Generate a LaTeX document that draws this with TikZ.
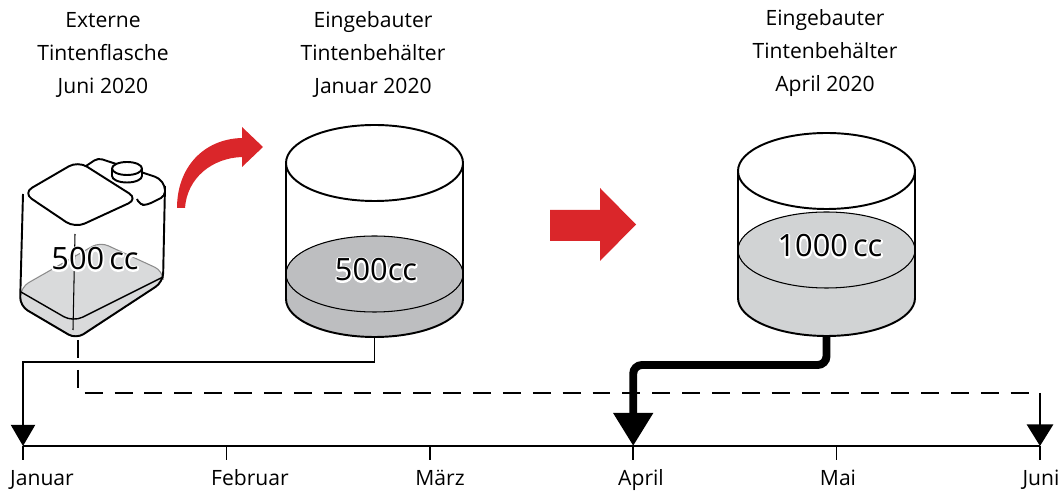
\documentclass[tikz,border=0pt]{standalone}
\usepackage{fontspec}
\setmainfont{Open Sans}
\usepackage{xcolor}
\usetikzlibrary{arrows.meta, positioning, calc}

\definecolor{inkred}{RGB}{218,38,42}
\definecolor{inkA}{RGB}{189,190,192}
\definecolor{inkB}{RGB}{209,211,212}
\definecolor{inkC}{RGB}{217,218,219}

% white outline behind the amounts (stroked copy, then the normal text)
\newcommand{\halotext}[1]{%
  \rlap{\special{pdf:literal direct 1 Tr 1.9 w 1 j 1 1 1 RG}#1\special{pdf:literal direct 0 Tr 0 0 0 RG}}#1}

\begin{document}
\begin{tikzpicture}[x=0.02cm, y=-0.02cm, >=Stealth,
  every node/.style={font=\fontsize{12}{18.8}\selectfont, inner sep=0pt},
  caption/.style={align=center, anchor=base},
  month/.style={anchor=base},
  amount/.style={font=\fontsize{17.5}{20}\selectfont},
  outline/.style={line width=1.1pt, line join=round},
  fineline/.style={line width=0.6pt},
  feedline/.style={line width=1.1pt, -{Triangle[width=13.7pt,length=12pt]}},
  bigfeed/.style={line width=4.5pt, rounded corners=5pt, -{Triangle[width=21.6pt,length=18.8pt]}},
  reserve/.style={line width=1.4pt, dash pattern=on 10.2pt off 6.8pt},
]
\useasboundingbox (0,0) rectangle (1064,492);

% Captions (base = last line)
\node[caption] (capC) at (103,94) {Externe\\Tintenflasche\\Juni 2020};
\node[caption] (capA) at (373,94) {Eingebauter\\Tintenbehälter\\Januar 2020};
\node[caption] (capB) at (825,92) {Eingebauter\\Tintenbehälter\\April 2020};

% Ink bottle
\filldraw[fill=inkC, draw=black!45, fineline, rounded corners=5pt]
  (21,287) -- (100,242) -- (163,271) -- (163,282) -- (77,339) -- (20,306) -- cycle;
\draw[line width=0.8pt, rounded corners=6pt] (21,292) -- (73,322) -- (163,277);
\draw[fineline] (75,234) -- (73,330);
\draw[outline, rounded corners=5pt] (165,186) -- (163,282) -- (76,339) -- (20,306) -- (23,194);
\filldraw[outline, fill=white, rounded corners=2.5pt]
  (86,166) -- (98,158) -- (159,178) -- (165,186) -- (165,196) -- (147,205) -- (140,205) -- (137,199);
\filldraw[outline, fill=white, rounded corners=6pt] (23,193) -- (78,161) -- (138,199) -- (75,228) -- cycle;
\filldraw[outline, fill=white] (112,168.5) -- (112,176)
  arc[start angle=180, end angle=0, x radius=15, y radius=6.5] -- (142,168.5);
\filldraw[outline, fill=white] (127,168.5) ellipse[x radius=15, y radius=6.5];
\node[amount] (amtC) at (95,259) {\halotext{500\,cc}};
\coordinate (bottle) at (78,340);

% Red arrows
\fill[inkred] (177,208) .. controls (177,168) and (203,139) .. (242,138) -- (242,127) -- (263,147)
  -- (242,167) -- (242,157) .. controls (212,158) and (187,178) .. (185,208) -- cycle;
\fill[inkred] (550,210) -- (600,210) -- (600,188) -- (636,224.5) -- (600,261) -- (600,241) -- (550,241) -- cycle;

% Tank A (January)
\fill[inkA] (286,274) -- (286,299) arc[start angle=180, end angle=0, x radius=88.5, y radius=38]
  -- (463,274) arc[start angle=0, end angle=-180, x radius=88.5, y radius=38] -- cycle;
\draw[fineline] (374.5,274) ellipse[x radius=88.5, y radius=38];
\draw[outline] (374.5,163) ellipse[x radius=88.5, y radius=38];
\draw[outline] (286,163) -- (286,299) arc[start angle=180, end angle=0, x radius=88.5, y radius=38] -- (463,163);
\node[amount] (amtA) at (376,270) {\halotext{500cc}};
\coordinate (tankA) at (374.5,337);

% Tank B (April)
\fill[inkB] (738,250) -- (738,298) arc[start angle=180, end angle=0, x radius=88.5, y radius=38]
  -- (915,250) arc[start angle=0, end angle=-180, x radius=88.5, y radius=38] -- cycle;
\draw[fineline] (826.5,250) ellipse[x radius=88.5, y radius=38];
\draw[outline] (826.5,171) ellipse[x radius=88.5, y radius=38];
\draw[outline] (738,171) -- (738,298) arc[start angle=180, end angle=0, x radius=88.5, y radius=38] -- (915,171);
\node[amount] (amtB) at (830,246) {\halotext{1000\,cc}};
\coordinate (tankB) at (826.5,336);

% Timeline
\foreach \m/\x in {jan/23, feb/226.4, mar/429.8, apr/633.2, mai/836.6, jun/1040}
  \coordinate (\m) at (\x,446);
\draw[line width=1pt] (jan) -- (jun);
\foreach \m in {jan,feb,mar,apr,mai,jun}
  \draw[line width=1pt] (\m) -- ++(0,14);
\foreach \name/\x/\txt in {lJan/42/Januar, lFeb/250/Februar, lMar/440/März, lApr/641/April, lMai/838/Mai, lJun/1041/Juni}
  \node[month] (\name) at (\x,486) {\txt};

% Connections
\coordinate (junbend) at (1040,393);
\draw[feedline] (tankA) -- ++(0,25) -| (jan);
\draw[reserve] (bottle) |- (junbend);
\draw[feedline, -{Triangle[width=15pt,length=12.3pt]}] (junbend) -- (jun);
\draw[bigfeed] (tankB) -- ++(0,29) -| (apr);

\end{tikzpicture}
\end{document}
